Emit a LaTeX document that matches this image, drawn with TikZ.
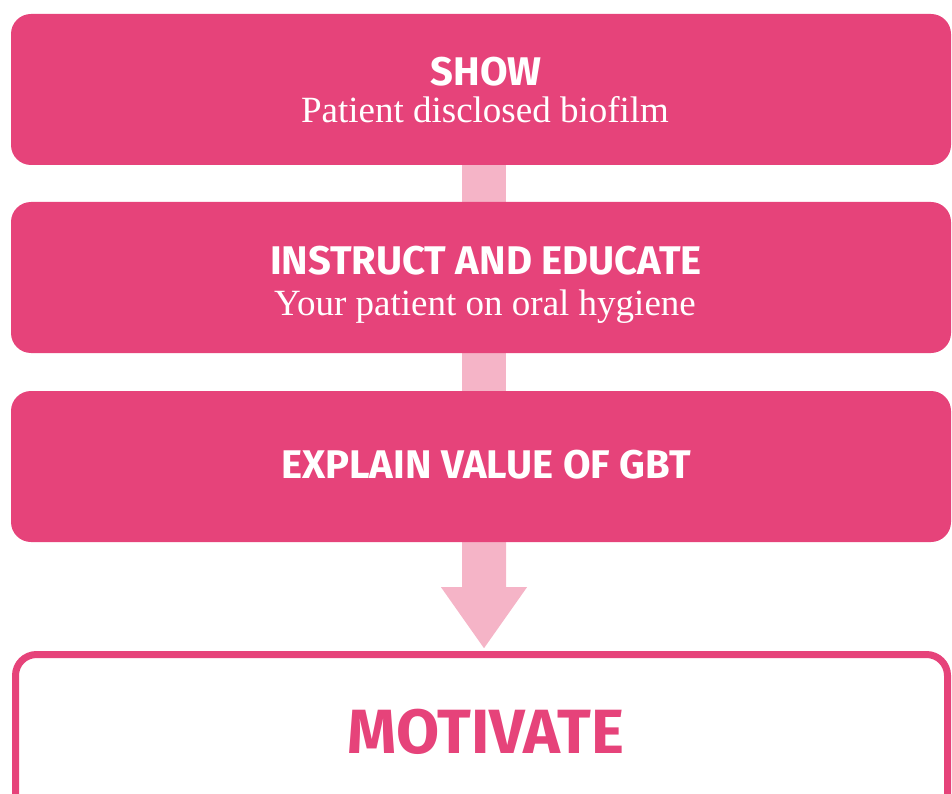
\documentclass[tikz,border=0pt]{standalone}
\usepackage{fontspec}
\setmainfont{Liberation Serif}
\newfontfamily\headfont{Fira Sans}
\usetikzlibrary{backgrounds,calc}
\definecolor{pinkmain}{HTML}{E6437A}
\definecolor{pinklight}{HTML}{F5B4C7}
\begin{document}
\begin{tikzpicture}[x=1pt,y=-1pt,
  stepbox/.style={fill=pinkmain, rounded corners=20pt, inner sep=0pt,
    minimum width=940pt, minimum height=151pt},
  motbox/.style={draw=pinkmain, line width=7pt, fill=white, rounded corners=21pt,
    inner sep=0pt, minimum width=932pt, minimum height=171.5pt},
  head/.style={font=\headfont\bfseries\fontsize{40}{40}\selectfont, text=white,
    inner sep=0pt, anchor=base},
  sub/.style={font=\fontsize{37}{37}\selectfont, text=white, inner sep=0pt, anchor=base},
  motiv/.style={font=\headfont\bfseries\fontsize{62.5}{63}\selectfont, text=pinkmain,
    inner sep=0pt, anchor=base},
  conn/.style={fill=pinklight}]
\useasboundingbox (0,0) rectangle (952,794);
\clip (0,0) rectangle (952,794);
\node[stepbox] (b1) at (481,89.5) {};
\node[stepbox] (b2) at (481,277.5) {};
\node[stepbox] (b3) at (481,466.5) {};
\node[motbox] (b4) at (481.5,740.25) {};
\node[head] (t1) at (486,86) {SHOW};
\node[sub] (s1) at (485,123) {Patient disclosed biofilm};
\node[head] (t2) at (486,274) {INSTRUCT AND EDUCATE};
\node[sub] (s2) at (485,315) {Your patient on oral hygiene};
\node[head] (t3) at (486,478) {EXPLAIN VALUE OF GBT};
\node[motiv] (t4) at (486,753) {MOTIVATE};
\coordinate (tip) at ($(b3.south)+(3,106)$);
\begin{scope}[on background layer]
\fill[conn] ($(b1.south)+(-19,-5)$) rectangle ($(b2.north)+(25,5)$);
\fill[conn] ($(b2.south)+(-19,-5)$) rectangle ($(b3.north)+(25,5)$);
\fill[conn] ($(b3.south)+(-19,-5)$) -- ($(b3.south)+(25,-5)$) -- ($(b3.south)+(25,45)$)
  -- ($(b3.south)+(46,45)$) -- (tip) -- ($(b3.south)+(-40,45)$)
  -- ($(b3.south)+(-19,45)$) -- cycle;
\end{scope}
\end{tikzpicture}
\end{document}
